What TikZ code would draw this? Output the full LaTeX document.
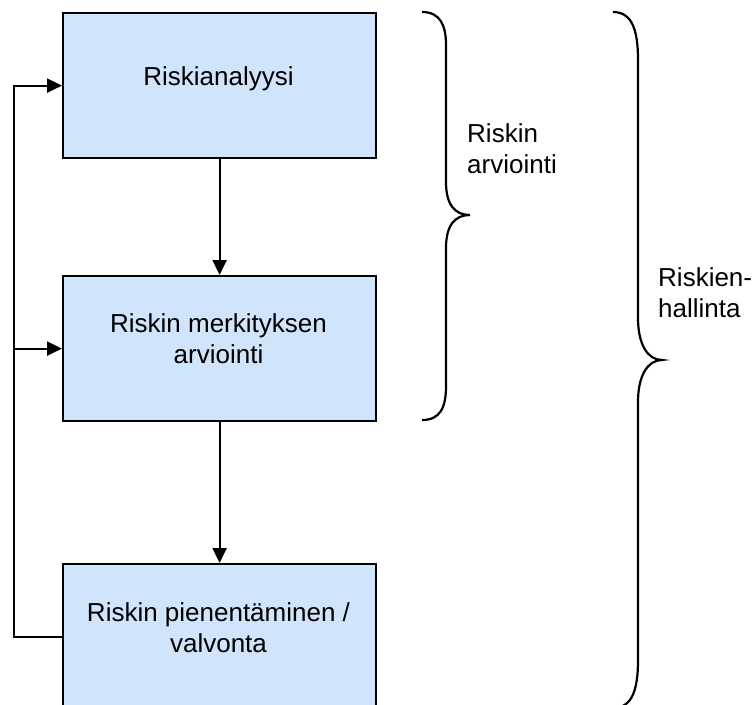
\documentclass[tikz,border=0pt]{standalone}
\usepackage{fontspec}
\setmainfont{Liberation Sans}
\usetikzlibrary{arrows.meta}
\definecolor{boxfill}{RGB}{208,229,251}
\begin{document}
\begin{tikzpicture}[x=1pt,y=-1pt,
  box/.style={draw=black, line width=2.2pt, fill=boxfill, minimum width=313pt, minimum height=145pt, inner sep=0pt, anchor=north west},
  lbl/.style={font=\fontsize{26}{31}\selectfont, align=center, inner sep=0pt, anchor=base},
  side/.style={font=\fontsize{26}{31}\selectfont, align=left, inner sep=0pt, anchor=base west},
  conn/.style={line width=2.2pt, -{Triangle[length=15pt,width=14pt]}},
  brace/.style={line width=2.2pt}]
\useasboundingbox (0,0) rectangle (754,704);
\clip (0,0) rectangle (754,704);
\node[box] (b1) at (62,12) {};
\node[box] (b2) at (62,275) {};
\node[box] (b3) at (62,563) {};
\node[lbl] (t1) at (218.5,85) {Riskianalyysi};
\node[lbl] (t2) at (218.5,363) {Riskin merkityksen\\arviointi};
\node[lbl] (t3) at (218.5,652) {Riskin pienentäminen /\\valvonta};
\node[side] (s1) at (467,173) {Riskin\\arviointi};
\node[side] (s2) at (658,317) {Riskien-\\hallinta};
\draw[conn] (b1.south) -- (b2.north);
\draw[conn] (b2.south) -- (b3.north);
\coordinate (loopx) at (14,0);
\draw[conn] (b3.west) -- (b3.west -| loopx) -- (b1.west -| loopx) -- (b1.west);
\draw[conn] (b2.west -| loopx) -- (b2.west);
\draw[brace] (422,12) .. controls (440,12) and (446,25) .. (446,45) -- (446,182) .. controls (446,205) and (455,215) .. (470,215) .. controls (455,215) and (446,225) .. (446,248) -- (446,386) .. controls (446,408) and (440,420) .. (422,420);
\draw[brace] (613,12) .. controls (632,12) and (638,30) .. (638,60) -- (638,318) .. controls (638,345) and (648,360) .. (662,360) .. controls (648,360) and (638,375) .. (638,402) -- (638,660) .. controls (638,690) and (632,708) .. (613,708);
\end{tikzpicture}
\end{document}
